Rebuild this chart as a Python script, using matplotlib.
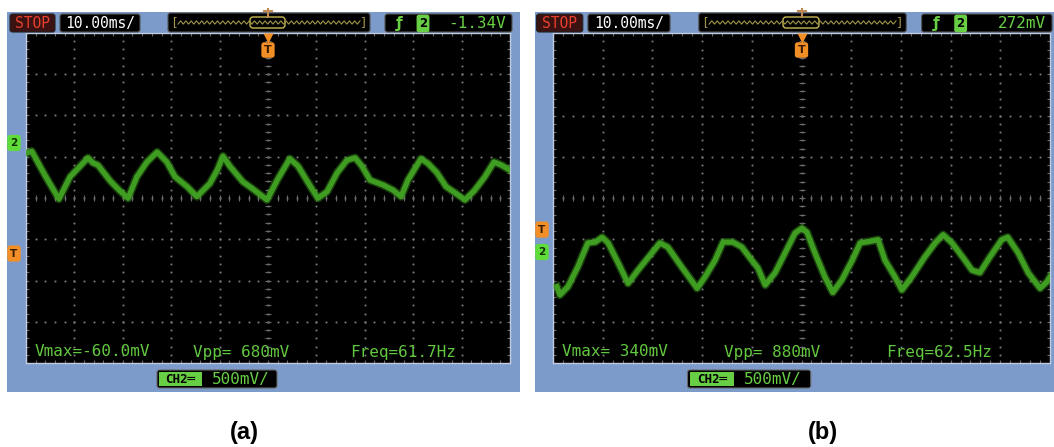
import matplotlib.pyplot as plt
import matplotlib.transforms as mtransforms
from matplotlib.patches import FancyBboxPatch, Rectangle
import numpy as np

W, H, DPI = 1054, 447, 100

# traces
# time in ms from the trigger point, voltage in mV from the CH2 ground marker
t_a = [-49.8, -48.8, -46.1, -43.2, -40.9, -38.8, -37.2, -36.2, -35.1, -32.6,
       -30.6, -28.9, -27.1, -25.0, -22.9, -20.9, -19.2, -16.7, -14.7, -12.0,
       -10.5, -9.3, -7.9, -5.2, -3.3, -0.2, 1.9, 4.5, 6.2, 8.7,
       10.3, 12.2, 14.3, 16.3, 18.0, 19.4, 21.1, 23.8, 25.8, 27.5,
       28.9, 31.6, 33.1, 34.9, 36.8, 38.8, 40.7, 42.6, 44.8, 46.7, 48.3, 50.0]
v_a = [-120, -100, -390, -680, -410, -280, -180, -240, -270, -460,
       -580, -670, -410, -230, -110, -230, -410, -530, -650, -490,
       -330, -160, -280, -470, -550, -690, -450, -190, -280, -520,
       -670, -590, -360, -210, -180, -280, -450, -510, -570, -650,
       -450, -190, -250, -360, -530, -610, -690, -580, -410, -230, -270, -330]

t_b = [-49.2, -48.6, -47.0, -45.0, -43.0, -41.5, -40.1, -38.9, -36.9, -34.9,
       -32.9, -30.1, -28.5, -26.9, -24.0, -21.0, -19.4, -17.4, -15.8, -13.8,
       -12.0, -10.0, -8.8, -7.3, -5.3, -3.3, -1.3, 0.1, 1.1, 2.7,
       4.7, 6.3, 8.1, 10.2, 11.8, 13.8, 15.4, 16.8, 18.8, 20.2,
       22.2, 24.8, 26.9, 28.5, 30.3, 32.9, 34.3, 35.9, 37.9, 40.3,
       41.5, 43.6, 45.6, 48.0, 49.4, 50.0]
v_b = [-420, -520, -420, -180, 110, 120, 180, 110, -130, -380,
       -220, -10, 110, 60, -190, -440, -300, -100, 120, 120,
       60, -100, -190, -400, -250, -10, 230, 290, 240, -10,
       -300, -490, -340, -100, 110, 130, 150, -100, -300, -460,
       -300, -60, 110, 210, 110, -100, -220, -250, -60, 150,
       180, -10, -250, -440, -360, -300]

# scope settings shown on each screen
timebase = ['10.00ms/', '10.00ms/']
ch_scale = ['500mV/', '500mV/']
trig_text = ['-1.34V', '272mV']
trig_mv = [-1340, 272]
centre_mv = [-667, 655]   # CH2 value at the middle of the screen
readout_a = ['Vmax=-60.0mV', 'Vpp= 680mV', 'Freq=61.7Hz']
readout_b = ['Vmax= 340mV', 'Vpp= 880mV', 'Freq=62.5Hz']
labels = ['(a)', '(b)']

MS_DIV, MV_DIV = 10, 500

BLUE = '#7c9bcb'
GREEN = '#68cf44'
TRACE = '#3f9e22'
ORANGE = '#f28e26'
MONO = 'DejaVu Sans Mono'

# pixel boxes (x0, y0, x1, y1)
frames = [(7, 12, 520, 392), (535, 12, 1054, 392)]
screens = [(26, 33, 510, 363), (553, 33, 1050, 363)]
label_x = [244, 823]

traces = [(t_a, v_a), (t_b, v_b)]
readouts = [readout_a, readout_b]

fig = plt.figure(figsize=(W / DPI, H / DPI), dpi=DPI)
bg = fig.add_axes([0, 0, 1, 1])
bg.set_xlim(0, W)
bg.set_ylim(H, 0)
bg.axis('off')


def pix_axes(box):
    x0, y0, x1, y1 = box
    return fig.add_axes([x0 / W, 1 - y1 / H, (x1 - x0) / W, (y1 - y0) / H])


def rbox(ax, x0, y0, x1, y1, fc, ec='none', lw=0.8, r=2.5):
    ax.add_patch(FancyBboxPatch((x0, y0), x1 - x0, y1 - y0,
                                boxstyle='round,pad=0,rounding_size=%g' % r,
                                fc=fc, ec=ec, lw=lw))


def draw_grid(ax, c):
    dot = '#808080'
    tick = '#6a6a6a'
    xs = np.arange(-5 * MS_DIV, 5 * MS_DIV + 0.1, MS_DIV / 5)
    ys = np.arange(c - 4 * MV_DIV, c + 4 * MV_DIV + 0.1, MV_DIV / 5)
    for k in range(-4, 5):
        ax.plot(np.full(len(ys), k * MS_DIV), ys, ls='none', marker='s',
                ms=1.3, mew=0, color=dot)
    for k in range(-3, 4):
        ax.plot(xs, np.full(len(xs), c + k * MV_DIV), ls='none', marker='s',
                ms=1.3, mew=0, color=dot)
    # centre cross with small ticks
    ax.plot(np.zeros(len(ys)), ys, ls='none', marker='_', ms=4, mew=0.8, color=tick)
    ax.plot(xs, np.full(len(xs), c), ls='none', marker='|', ms=4, mew=0.8, color=tick)
    # ticks along the border
    for y in (c - 4 * MV_DIV, c + 4 * MV_DIV):
        ax.plot(xs, np.full(len(xs), y), ls='none', marker='|', ms=5, mew=0.8, color=tick)
    for x in (-5 * MS_DIV, 5 * MS_DIV):
        ax.plot(np.full(len(ys), x), ys, ls='none', marker='_', ms=5, mew=0.8, color=tick)


# blue bezel behind each screen
for fx0, fy0, fx1, fy1 in frames:
    bg.add_patch(Rectangle((fx0, fy0), fx1 - fx0, fy1 - fy0, fc=BLUE, ec='none'))

scr = []
for i, box in enumerate(screens):
    ax = pix_axes(box)
    c = centre_mv[i]
    ax.set_xlim(-5 * MS_DIV, 5 * MS_DIV)
    ax.set_ylim(c - 4 * MV_DIV, c + 4 * MV_DIV)
    ax.set_facecolor('black')
    ax.set_xticks([])
    ax.set_yticks([])
    for s in ax.spines.values():
        s.set_color('#c0cbe0')
        s.set_linewidth(1.0)
    draw_grid(ax, c)
    t, v = traces[i]
    ax.plot(t, v, color=TRACE, lw=6, alpha=0.4, solid_joinstyle='round', zorder=3)
    ax.plot(t, v, color=TRACE, lw=3.8, solid_joinstyle='round', zorder=4)
    scr.append(ax)

# overlay for the readouts and labels
ov = fig.add_axes([0, 0, 1, 1], facecolor='none')
ov.set_xlim(0, W)
ov.set_ylim(H, 0)
ov.axis('off')

for i, box in enumerate(screens):
    sl = box[0]
    s = (box[2] - box[0]) / 484.0
    fx0 = frames[i][0]

    def X(rel):
        return sl + rel * s

    # top status bar
    rbox(ov, X(-16), 14, X(29), 32, fc='#3a1212', ec='#222')
    ov.text(X(6.5), 23.5, 'STOP', color='#e8402c', fontsize=10.5, family=MONO,
            ha='center', va='center')
    rbox(ov, X(34), 14, X(114), 32, fc='black', ec='#555')
    ov.text(X(74), 23.5, timebase[i], color='white', fontsize=10.5, family=MONO,
            ha='center', va='center')

    rbox(ov, X(142), 13, X(344), 32, fc='black', ec='#555')
    zx = np.linspace(X(152), X(334), 70)
    zy = 22.5 + 1.6 * np.resize([1, -1], len(zx))
    ov.plot(zx, zy, color='#a2964a', lw=0.8)
    ov.text(X(148), 22.5, '[', color='#a2964a', fontsize=9, family=MONO, ha='center', va='center')
    ov.text(X(338), 22.5, ']', color='#a2964a', fontsize=9, family=MONO, ha='center', va='center')
    ov.add_patch(FancyBboxPatch((X(224), 17), X(259) - X(224), 11,
                                boxstyle='round,pad=0,rounding_size=3',
                                fc='none', ec='#c8b850', lw=1.0))
    cx = (box[0] + box[2]) / 2
    ov.plot([cx, cx], [9, 17], color='#c08a50', lw=1.5)
    ov.plot([cx - 4, cx + 4], [11, 11], color='#c08a50', lw=1.5)

    rbox(ov, X(359), 14, X(486), 32, fc='black', ec='#555')
    ov.text(X(373), 23.5, 'ƒ', color=GREEN, fontsize=11, fontweight='bold',
            ha='center', va='center')
    ov.text(X(397), 23.5, '2', color='black', fontsize=8.5, fontweight='bold',
            ha='center', va='center',
            bbox=dict(boxstyle='round,pad=0.2', fc=GREEN, ec='none'))
    ov.text(X(480), 23.5, trig_text[i], color=GREEN, fontsize=11.5, family=MONO,
            ha='right', va='center')

    # trigger position marker at the top of the screen
    tr_top = mtransforms.blended_transform_factory(scr[i].transData, ov.transData)
    ov.plot([0], [38], marker='v', ms=7, color=ORANGE, mec='none', transform=tr_top)
    ov.text(0, 50, 'T', color='#3a1a00', fontsize=8, fontweight='bold',
            ha='center', va='center', transform=tr_top,
            bbox=dict(boxstyle='round,pad=0.25', fc=ORANGE, ec='none'))

    # ground and trigger level tags on the left
    tr_left = mtransforms.blended_transform_factory(ov.transData, scr[i].transData)
    ov.text(fx0 + 7, 0, '2', color='#103000', fontsize=7.5, fontweight='bold',
            ha='center', va='center', transform=tr_left,
            bbox=dict(boxstyle='round,pad=0.3', fc='#5fdc3a', ec='none'))
    ov.text(fx0 + 7, trig_mv[i], 'T', color='#3a1a00', fontsize=7.5, fontweight='bold',
            ha='center', va='center', transform=tr_left,
            bbox=dict(boxstyle='round,pad=0.3', fc=ORANGE, ec='none'))

    # measurement readouts
    for rel, txt in zip([9, 167, 324], readouts[i]):
        ov.text(X(rel), 352, txt, color='#62c83e', fontsize=11.5, family=MONO,
                ha='left', va='center')

    # channel scale box under the screen
    rbox(ov, X(131), 370, X(251), 388, fc='black', ec='#666')
    ov.add_patch(Rectangle((X(133), 372), X(176) - X(133), 14, fc=GREEN, ec='none'))
    ov.text((X(133) + X(176)) / 2, 379.5, 'CH2═', color='black', fontsize=9,
            family=MONO, fontweight='bold', ha='center', va='center')
    ov.text(X(186), 379.5, ch_scale[i], color=GREEN, fontsize=11.5, family=MONO,
            ha='left', va='center')

    ov.text(label_x[i], 432, labels[i], fontsize=17, fontweight='bold',
            family='Liberation Sans', ha='center', va='center')

fig.savefig('out.png', dpi=DPI)
